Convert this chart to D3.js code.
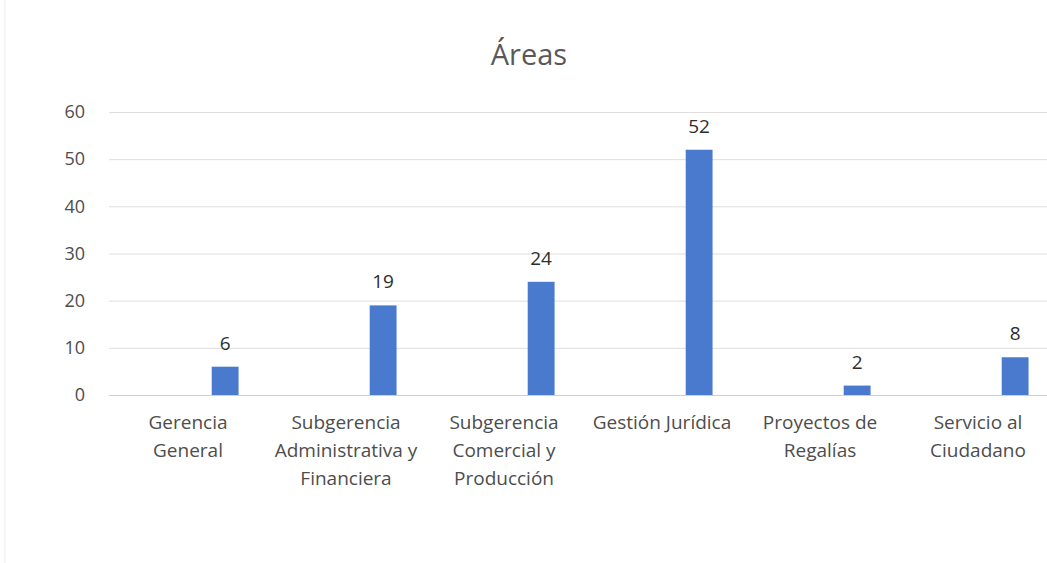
<!DOCTYPE html>
<html>
<head>
<meta charset="utf-8">
<script src="https://cdn.jsdelivr.net/npm/d3@7"></script>
<style>
  body { margin: 0; background: #fff; }
  text { font-family: "Open Sans", "Noto Sans", sans-serif; }
</style>
</head>
<body>
<svg id="chart" width="1047" height="563"></svg>
<script>
// data
const categories = [
  "Gerencia\nGeneral",
  "Subgerencia\nAdministrativa y\nFinanciera",
  "Subgerencia\nComercial y\nProducción",
  "Gestión Jurídica",
  "Proyectos de\nRegalías",
  "Servicio al\nCiudadano"
];
const counts = [6, 19, 24, 52, 2, 8];
const yTicks = [0, 10, 20, 30, 40, 50, 60];
const title = "Áreas";

const svg = d3.select("#chart");
const margin = { top: 112, left: 109, bottom: 395, right: 1057 };

const x = d3.scaleBand()
  .domain(categories)
  .range([margin.left, margin.right])
  .padding(0);

const y = d3.scaleLinear()
  .domain([0, 60])
  .range([margin.bottom, margin.top]);

// bar sits right of the category centre (empty first series in the original)
const barW = x.bandwidth() * 0.17;
const barShift = x.bandwidth() * 0.235;

// faint outer border of the chart area
svg.append("line")
  .attr("x1", 5).attr("x2", 5)
  .attr("y1", 0).attr("y2", 563)
  .attr("stroke", "#ececec");

// gridlines
svg.append("g")
  .selectAll("line")
  .data(yTicks)
  .join("line")
  .attr("x1", margin.left)
  .attr("x2", margin.right)
  .attr("y1", d => y(d) + 0.5)
  .attr("y2", d => y(d) + 0.5)
  .attr("stroke", d => d === 0 ? "#cfcfcf" : "#dedede")
  .attr("stroke-width", 1);

// y axis labels
const yAxis = svg.append("g")
  .attr("transform", `translate(${margin.left - 24},0)`)
  .call(d3.axisLeft(y).tickValues(yTicks).tickSize(0).tickPadding(0));
yAxis.select(".domain").remove();
yAxis.selectAll("text")
  .attr("fill", "#4d4d4d")
  .style("font-size", "18px")
  .style("font-family", "'Open Sans', sans-serif");

// bars
svg.append("g")
  .selectAll("rect")
  .data(counts)
  .join("rect")
  .attr("x", (d, i) => x(categories[i]) + x.bandwidth() / 2 + barShift - barW / 2)
  .attr("y", d => y(d))
  .attr("width", barW)
  .attr("height", d => y(0) - y(d))
  .attr("fill", "#4a7acd");

// value labels
svg.append("g")
  .selectAll("text")
  .data(counts)
  .join("text")
  .attr("x", (d, i) => x(categories[i]) + x.bandwidth() / 2 + barShift)
  .attr("y", d => y(d) - 17)
  .attr("text-anchor", "middle")
  .attr("fill", "#2e2e2e")
  .style("font-size", "19px")
  .text(d => d);

// category labels (wrapped like the original)
const xAxis = svg.append("g")
  .attr("transform", `translate(0,${margin.bottom})`)
  .call(d3.axisBottom(x).tickSize(0).tickPadding(0));
xAxis.select(".domain").remove();
xAxis.selectAll("text").each(function (d) {
  const t = d3.select(this);
  t.text(null)
    .attr("y", 0)
    .attr("dy", null)
    .attr("fill", "#4d4d4d")
    .style("font-size", "19px")
    .style("font-family", "'Open Sans', sans-serif");
  d.split("\n").forEach((line, k) => {
    t.append("tspan")
      .attr("x", 0)
      .attr("y", 34 + k * 28)
      .text(line);
  });
});

// title
svg.append("text")
  .attr("x", 529)
  .attr("y", 65)
  .attr("text-anchor", "middle")
  .attr("fill", "#595959")
  .style("font-size", "29px")
  .text(title);
</script>
</body>
</html>
